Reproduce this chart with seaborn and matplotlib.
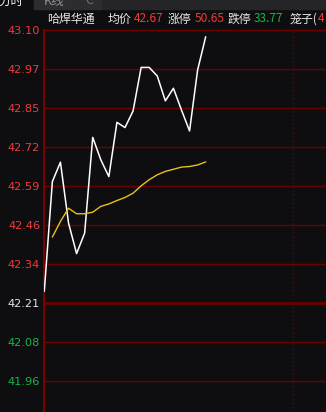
import numpy as np
import pandas as pd
import matplotlib
matplotlib.use("Agg")
import matplotlib.pyplot as plt
import seaborn as sns
from matplotlib.patches import Rectangle

# ---- data ----
price = [42.248, 42.606, 42.669, 42.471, 42.371, 42.438, 42.750, 42.677, 42.622,
         42.799, 42.782, 42.836, 42.978, 42.978, 42.950, 42.869, 42.910, 42.839,
         42.771, 42.970, 43.078]
avg_price = [np.nan, 42.425, 42.476, 42.519, 42.501, 42.501, 42.506, 42.525, 42.533,
             42.544, 42.554, 42.568, 42.592, 42.612, 42.628, 42.639, 42.646, 42.653,
             42.655, 42.660, 42.670]
prev_close = 42.21
top_price = 43.10
tick_labels = ["43.10", "42.97", "42.85", "42.72", "42.59", "42.46",
               "42.34", "42.21", "42.08", "41.96"]
stock_name = "哈焊华通"
avg_label, avg_value = "均价", "42.67"
up_label, up_value = "涨停", "50.65"
down_label, down_value = "跌停", "33.77"
cage_label, cage_value = "笼子(", "4"

df = pd.DataFrame({"t": np.arange(len(price)), "price": price, "avg": avg_price})

# ---- style ----
W, H = 326, 412
DPI = 100
bg = "#0e0e11"
grid_red = "#6a0000"
red = "#ee3b3b"
green = "#19b34a"
white = "#e8e8e8"

sns.set_theme(style="dark")
plt.rcParams["font.family"] = ["Noto Sans CJK SC", "DejaVu Sans"]

fig = plt.figure(figsize=(W / DPI, H / DPI), dpi=DPI, facecolor=bg)

def px(x, y):
    return x / W, 1 - y / H

# axes in pixel geometry
ax_left, ax_top = 44.3, 30.0
ax = fig.add_axes([ax_left / W, 0, 1 - ax_left / W, 1 - ax_top / H])
ax.set_facecolor(bg)

step_px = 8.07
step_price = (top_price - prev_close) / 7
px_per_price = 39.0 / step_price
y_bottom = top_price - (H - ax_top) / px_per_price
ax.set_ylim(y_bottom, top_price)
ax.set_xlim(0, (W - ax_left) / step_px)

# grid lines
for k in range(len(tick_labels)):
    yv = top_price - k * step_price
    lw = 2.0 if tick_labels[k] == f"{prev_close:.2f}" else 1.0
    ax.axhline(yv, color=grid_red, lw=lw, zorder=1, clip_on=False)
ax.axvline((293.3 - ax_left) / step_px, color=grid_red, lw=1, ls=(0, (1, 2)), zorder=1)

sns.lineplot(data=df, x="t", y="price", ax=ax, color="#ffffff", lw=1.1, zorder=3)
sns.lineplot(data=df, x="t", y="avg", ax=ax, color="#e6c21a", lw=1.0, zorder=3)

for s in ["top", "right", "bottom"]:
    ax.spines[s].set_visible(False)
ax.spines["left"].set_color("#7a0000")
ax.spines["left"].set_linewidth(1.5)
ax.grid(False)
ax.set_xlabel("")
ax.set_ylabel("")
ax.set_xticks([])

yt = [top_price - k * step_price for k in range(len(tick_labels))]
ax.set_yticks(yt)
ax.set_yticklabels(tick_labels)
ax.tick_params(axis="y", length=0, pad=3)
for lbl in ax.get_yticklabels():
    v = float(lbl.get_text())
    lbl.set_fontfamily("DejaVu Sans")
    lbl.set_fontsize(8.2)
    if v > prev_close:
        lbl.set_color(red)
    elif v < prev_close:
        lbl.set_color(green)
    else:
        lbl.set_color("#dde4ee")

# ---- tab bar ----
fig.patches.append(Rectangle(px(102, 9), (W - 102) / W, 9 / H, transform=fig.transFigure,
                             color="#252528", zorder=0))
fig.patches.append(Rectangle(px(34, 9), 44 / W, 9 / H, transform=fig.transFigure,
                             color="#2d2d31", zorder=0))
fig.patches.append(Rectangle(px(79, 9), 22 / W, 9 / H, transform=fig.transFigure,
                             color="#2d2d31", zorder=0))
fig.text(*px(-2, 1), "分时", color="#f0f0f0", fontsize=9, ha="left", va="center")
fig.text(*px(44, 1), "K线", color="#909090", fontsize=9, ha="left", va="center")
fig.text(*px(85, 1), "C", color="#707070", fontsize=9, ha="left", va="center")

# ---- header ----
hy = 19
fs = 8.6
fig.text(*px(47, hy), stock_name, color=white, fontsize=fs, va="center")
fig.text(*px(108, hy), avg_label, color=white, fontsize=fs, va="center")
fig.text(*px(134, hy), avg_value, color=red, fontsize=fs, va="center")
fig.text(*px(168, hy), up_label, color=white, fontsize=fs, va="center")
fig.text(*px(195, hy), up_value, color=red, fontsize=fs, va="center")
fig.text(*px(228, hy), down_label, color=white, fontsize=fs, va="center")
fig.text(*px(254, hy), down_value, color=green, fontsize=fs, va="center")
fig.text(*px(290, hy), cage_label, color=white, fontsize=fs, va="center")
fig.text(*px(318, hy), cage_value, color=red, fontsize=fs, va="center")

fig.savefig("out.png", dpi=DPI, facecolor=bg)
